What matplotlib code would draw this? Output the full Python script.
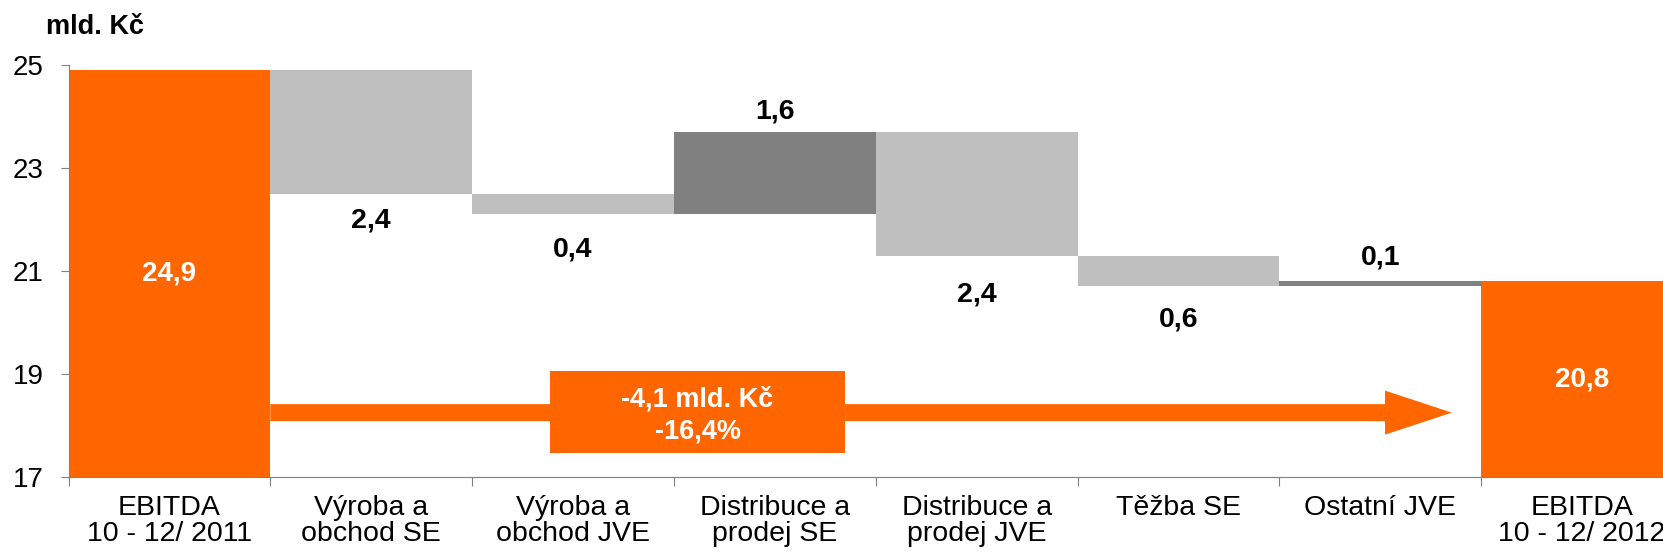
import matplotlib
matplotlib.use('Agg')
import matplotlib.pyplot as plt
from matplotlib.patches import Rectangle
import numpy as np

plt.rcParams['font.family'] = ['Liberation Sans', 'DejaVu Sans']

# data
categories = ["EBITDA\n10 - 12/ 2011", "Výroba a\nobchod SE", "Výroba a\nobchod JVE",
              "Distribuce a\nprodej SE", "Distribuce a\nprodej JVE", "Těžba SE",
              "Ostatní JVE", "EBITDA\n10 - 12/ 2012"]
start_total = 24.9
changes = [-2.4, -0.4, 1.6, -2.4, -0.6, 0.1]
end_total = 20.8
total_change = "-4,1 mld. Kč\n-16,4%"
unit_label = "mld. Kč"
yticks = [17, 19, 21, 23, 25]

# label offsets (points) from the bar end
label_offsets = [-19, -25, 15, -28, -24, 17]

ORANGE = "#FF6600"
LIGHT = "#BFBFBF"
DARK = "#808080"

def fmt(v):
    return ("%.1f" % v).replace(".", ",")

fig = plt.figure(figsize=(16.63, 5.55), dpi=100)
ax = fig.add_axes([68.5 / 1663, 78 / 555, 1614.4 / 1663, 412 / 555])

x = np.arange(len(categories))

# totals
ax.bar([x[0], x[-1]], [start_total, end_total], width=1.0, color=ORANGE, zorder=2)
ax.text(x[0], (17 + start_total) / 2, fmt(start_total), ha='center', va='center',
        color='white', fontsize=20, fontweight='bold', zorder=5)
ax.text(x[-1], (17 + end_total) / 2, fmt(end_total), ha='center', va='center',
        color='white', fontsize=20, fontweight='bold', zorder=5)

# floating changes
level = start_total
for i, ch in enumerate(changes):
    pos = x[i + 1]
    bottom = level + min(ch, 0)
    color = DARK if ch > 0 else LIGHT
    ax.bar(pos, abs(ch), bottom=bottom, width=1.0, color=color, zorder=2)
    anchor = level + ch
    ax.annotate(fmt(abs(ch)), (pos, anchor), xytext=(0, label_offsets[i]),
                textcoords='offset points', ha='center', va='center',
                fontsize=20.5, fontweight='bold', zorder=5)
    level += ch

# arrow from first total to last total
arrow_y = 18.25
ax.arrow(x[0] + 0.5, arrow_y, 5.855, 0, width=0.33, head_width=0.855,
         head_length=0.331, length_includes_head=True, color=ORANGE, lw=0, zorder=3)
ax.add_patch(Rectangle((1.886, 17.47), 1.462, 1.59, facecolor=ORANGE,
                       edgecolor='none', zorder=4))
ax.text(2.617, 18.2, total_change, ha='center', va='center', color='white',
        fontsize=19.5, fontweight='bold', linespacing=1.32, zorder=5)

ax.set_xlim(-0.5, len(categories) - 0.5)
ax.set_ylim(17, 25)
ax.set_yticks(yticks)
ax.set_yticklabels([str(t) for t in yticks], fontsize=20)
ax.tick_params(axis='y', length=6, width=0.8, color=DARK, pad=12)

ax.set_xticks(np.arange(len(categories) + 1) - 0.5)
ax.set_xticklabels([])
ax.set_xticks(x, minor=True)
ax.set_xticklabels(categories, minor=True, fontsize=20.5, linespacing=1.0)
ax.tick_params(axis='x', which='major', length=6.5, width=0.8, color=DARK)
ax.tick_params(axis='x', which='minor', length=0, pad=13)

for s in ['top', 'right']:
    ax.spines[s].set_visible(False)
for s in ['left', 'bottom']:
    ax.spines[s].set_color(DARK)
    ax.spines[s].set_linewidth(0.8)
    ax.spines[s].set_zorder(6)

fig.text(46 / 1663, 1 - 27 / 555, unit_label, ha='left', va='center',
         fontsize=19.5, fontweight='bold')

fig.savefig("out.png", dpi=100)
